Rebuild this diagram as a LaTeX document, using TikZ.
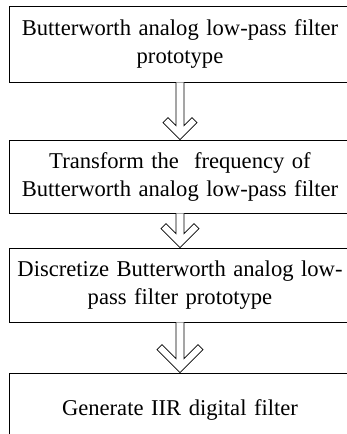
\documentclass[tikz,border=0pt]{standalone}
\usepackage{fontspec}
\setmainfont{Liberation Serif}
\usetikzlibrary{calc}

% block arrow between two boxes: #1 upper box, #2 lower box, #3 head size
\newcommand{\blockarrow}[3]{%
  \draw[hollow] ($(#1.south)+(-4,0)$) -- ($(#2.north)+(-4,-14)$)
    -- ($(#2.north)+(-#3+5,-#3-5)$) -- ($(#2.north)+(-#3,-#3)$)
    -- (#2.north)
    -- ($(#2.north)+(#3,-#3)$) -- ($(#2.north)+(#3-5,-#3-5)$)
    -- ($(#2.north)+(4,-14)$) -- ($(#1.south)+(4,0)$);
}

\begin{document}
\begin{tikzpicture}[
    x=1pt, y=-1pt,
    stage/.style={draw=black, line width=0.8pt, rectangle,
                  minimum width=342pt, text width=340pt, align=center,
                  inner sep=0pt, font=\fontsize{22.6}{28}\selectfont},
    hollow/.style={draw=black, line width=0.8pt, fill=white, line join=miter},
]
\useasboundingbox (0,0) rectangle (347,434);
\clip (0,0) rectangle (347,434);

% --- Boxes ---
\node[stage, minimum height=76pt] (proto) at (180,44)
    {Butterworth analog low-pass filter\\prototype};
\node[stage, minimum height=73pt] (freq)  at (180,176.5)
    {Transform the \ frequency of\\Butterworth analog low-pass filter};
\node[stage, minimum height=74pt] (disc)  at (180,285)
    {Discretize Butterworth analog low-\\pass filter prototype};
\node[stage, minimum height=74pt] (iir)   at (180,410)
    {Generate IIR digital filter};

% --- Arrows ---
\blockarrow{proto}{freq}{17}
\blockarrow{freq}{disc}{19}
\blockarrow{disc}{iir}{23}

\end{tikzpicture}
\end{document}
